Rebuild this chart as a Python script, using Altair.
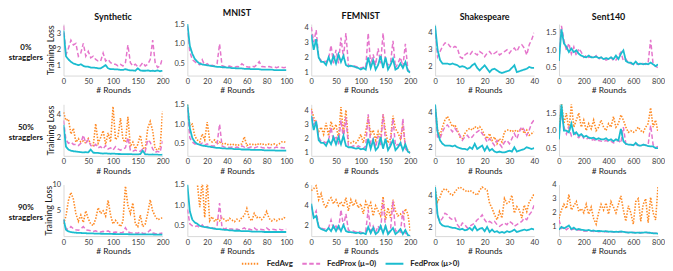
import altair as alt
import pandas as pd

# ---------------- labels ----------------
DATASETS = ["Synthetic", "MNIST", "FEMNIST", "Shakespeare", "Sent140"]
ROW_LABELS = [["0%", "stragglers"], ["50%", "stragglers"], ["90%", "stragglers"]]
SERIES = ["FedAvg", "FedProx (μ=0)", "FedProx (μ>0)"]
COLORS = ["#ff8a24", "#e576cc", "#1bbccf"]
DASHES = [[1.5, 1.5], [4.5, 2.5], [1, 0]]
WIDTHS = [1.6, 1.5, 1.8]

# ---------------- rounds (x sample positions) ----------------
ROUNDS_SYN = list(range(0, 201, 5))
ROUNDS_MNIST = [v / 10 for v in range(0, 1001, 25)]
ROUNDS_FEMNIST = list(range(0, 201, 5))
ROUNDS_SHAK = list(range(0, 41))
ROUNDS_SENT = list(range(0, 801, 20))
ROUNDS = [ROUNDS_SYN, ROUNDS_MNIST, ROUNDS_FEMNIST, ROUNDS_SHAK, ROUNDS_SENT]

X_MAX = [200, 100, 200, 40, 800]
X_TICKS = [[0, 50, 100, 150, 200], [0, 20, 40, 60, 80, 100], [0, 50, 100, 150, 200],
           [0, 10, 20, 30, 40], [0, 200, 400, 600, 800]]

Y_DOM = [
    [[0.4, 3.6], [0.2, 1.5], [0.8, 4.2], [1.5, 4.5], [0.28, 1.75]],
    [[0.4, 4.9], [0.2, 1.5], [0.8, 4.4], [1.5, 4.5], [0.28, 1.75]],
    [[0.2, 10], [0.25, 1.5], [1.0, 6.1], [1.5, 4.65], [0.35, 4.0]],
]
Y_TICKS = [
    [[1, 2, 3], [0.5, 1.0, 1.5], [1, 2, 3, 4], [2, 3, 4], [0.5, 1.0, 1.5]],
    [[2, 4], [0.5, 1.0, 1.5], [1, 2, 3, 4], [2, 3, 4], [0.5, 1.0, 1.5]],
    [[5, 10], [0.5, 1.0, 1.5], [2, 4, 6], [2, 3, 4], [1, 2, 3, 4]],
]
Y_FMT = [
    ["d", ".1f", "d", "d", ".1f"],
    ["d", ".1f", "d", "d", ".1f"],
    ["d", ".1f", "d", "d", "d"],
]
Y_TITLE_X = [-13, -13, -15.5]

# ---------------- 0% stragglers ----------------
SYN0_PROX0 = [3.5, 1.7, 2.1, 2.6, 2.3, 2.4, 1.6, 1.8, 2.4, 1.6, 1.9, 1.5, 1.6, 1.4, 1.3, 1.3, 1.8, 1.3, 1.4, 1.2,
              1.1, 1.1, 1.0, 1.1, 1.0, 1.2, 2.3, 1.2, 1.0, 1.1, 0.95, 1.0, 1.2, 1.0, 1.1, 1.4, 2.6, 1.2, 0.9, 1.0, 1.5]
SYN0_PROXP = [3.2, 1.6, 1.4, 1.25, 1.15, 1.1, 1.05, 1.1, 1.0, 0.95, 0.95, 0.9, 0.9, 0.88, 0.85, 0.85, 0.95, 1.05, 0.85, 0.8,
              0.8, 0.78, 0.78, 0.75, 0.75, 0.8, 0.75, 0.72, 0.72, 0.7, 0.85, 0.72, 0.7, 0.7, 0.72, 0.68, 0.7, 0.68, 0.72, 0.67, 0.7]
MNIST0_PROX0 = [1.45, 0.8, 0.6, 0.55, 0.5, 0.47, 0.6, 0.46, 0.5, 0.45, 0.46, 0.44, 0.5, 1.0, 0.45, 0.43, 0.42, 0.44, 0.42, 0.41,
                0.43, 0.42, 0.5, 0.45, 0.42, 0.41, 0.44, 0.42, 0.47, 0.55, 0.43, 0.42, 0.41, 0.43, 0.41, 0.42, 0.4, 0.42, 0.41, 0.4, 0.41]
MNIST0_PROXP = [1.5, 0.95, 0.75, 0.62, 0.55, 0.5, 0.48, 0.47, 0.46, 0.45, 0.44, 0.43, 0.42, 0.42, 0.41, 0.41, 0.4, 0.4, 0.39, 0.39,
                0.38, 0.38, 0.38, 0.37, 0.37, 0.37, 0.36, 0.36, 0.36, 0.36, 0.35, 0.35, 0.35, 0.35, 0.35, 0.34, 0.34, 0.34, 0.34, 0.34, 0.34]
FEM0_PROX0 = [4.0, 3.0, 3.8, 2.0, 1.8, 1.8, 1.7, 1.9, 2.8, 1.6, 2.5, 1.6, 3.3, 2.0, 3.6, 1.5, 1.4, 1.45, 1.4, 1.35,
              1.3, 1.35, 1.3, 3.6, 1.5, 2.2, 1.5, 2.6, 1.6, 3.6, 1.7, 1.5, 1.6, 3.1, 1.3, 1.6, 2.0, 1.4, 2.9, 1.2, 1.0]
FEM0_PROXP = [3.5, 2.5, 3.2, 2.0, 1.7, 1.7, 1.5, 2.0, 1.6, 2.1, 1.6, 2.2, 1.7, 2.1, 1.5, 1.4, 1.45, 1.4, 1.35, 1.3,
              1.2, 1.3, 1.2, 2.0, 1.3, 1.8, 1.2, 1.5, 2.1, 1.3, 2.0, 1.2, 1.5, 1.9, 1.2, 1.3, 1.6, 1.3, 1.7, 1.1, 1.0]
SHAK0_PROX0 = [4.3, 2.6, 2.9, 3.2, 3.4, 3.4, 3.2, 3.1, 3.2, 3.1, 2.6, 2.5, 2.7, 2.8, 2.7, 2.9, 2.8, 2.7, 2.9, 2.8,
               2.6, 2.8, 2.9, 2.7, 2.8, 2.9, 2.7, 2.8, 2.9, 3.0, 2.8, 3.0, 3.1, 2.9, 3.2, 3.3, 3.1, 2.7, 3.3, 3.6, 4.0]
SHAK0_PROXP = [4.4, 3.0, 2.4, 2.2, 2.2, 2.2, 2.15, 2.2, 2.15, 2.1, 2.0, 2.05, 2.0, 1.9, 1.95, 2.1, 2.2, 1.95, 1.8, 1.95,
               2.1, 1.9, 1.7, 1.85, 1.9, 1.8, 1.7, 1.65, 1.7, 1.75, 1.8, 1.95, 2.1, 1.7, 1.75, 1.8, 1.85, 1.9, 2.0, 1.95, 1.95]
SENT0_PROX0 = [0.7, 1.7, 1.3, 1.0, 1.2, 0.9, 1.1, 0.85, 1.05, 0.95, 0.8, 0.85, 0.8, 0.82, 0.78, 0.85, 0.75, 0.8, 0.78, 0.72,
               0.75, 0.8, 0.7, 0.72, 0.85, 0.95, 0.7, 0.75, 0.65, 0.62, 0.6, 0.62, 0.6, 0.65, 0.62, 0.6, 0.65, 1.3, 0.6, 0.55, 0.5]
SENT0_PROXP = [0.7, 1.6, 1.2, 1.1, 0.95, 1.05, 0.95, 1.0, 0.9, 0.85, 0.82, 0.8, 0.85, 0.8, 0.8, 0.82, 0.78, 0.8, 0.75, 0.78,
               0.75, 0.8, 0.75, 0.85, 0.75, 0.9, 1.0, 0.7, 0.65, 0.65, 0.6, 0.68, 0.6, 0.62, 0.6, 0.62, 0.6, 0.65, 0.6, 0.55, 0.6]

# ---------------- 50% stragglers ----------------
SYN50_AVG = [4.2, 3.5, 3.6, 2.3, 2.8, 1.6, 1.9, 1.6, 1.7, 1.5, 1.9, 1.4, 1.3, 3.2, 1.5, 2.0, 2.6, 1.4, 2.4, 1.6,
             4.7, 1.8, 2.1, 3.7, 1.8, 1.6, 3.8, 1.2, 1.6, 1.0, 1.4, 2.2, 1.1, 1.0, 2.8, 3.4, 2.6, 1.0, 0.9, 1.1, 4.3]
SYN50_PROX0 = [3.5, 1.8, 1.5, 1.6, 1.4, 1.4, 1.3, 1.5, 2.2, 1.5, 1.8, 1.3, 1.2, 1.4, 1.1, 1.2, 1.0, 1.3, 1.0, 1.1,
               0.9, 1.2, 1.0, 0.9, 1.0, 1.1, 2.0, 0.9, 0.8, 0.9, 0.8, 0.8, 1.0, 0.8, 1.8, 1.6, 1.0, 0.7, 0.8, 0.7, 1.7]
SYN50_PROXP = [3.1, 1.2, 0.95, 0.85, 0.8, 0.78, 0.75, 0.72, 0.7, 0.72, 0.7, 0.95, 0.68, 0.65, 0.65, 0.62, 0.6, 0.62, 0.6, 0.58,
               0.6, 0.58, 0.56, 0.56, 0.55, 0.55, 0.54, 0.55, 0.53, 0.53, 0.52, 0.55, 0.85, 0.53, 0.52, 0.5, 0.52, 0.5, 0.5, 0.48, 0.5]
MNIST50_AVG = [1.5, 0.95, 1.0, 0.7, 0.6, 0.55, 0.75, 0.6, 1.05, 0.6, 0.55, 0.6, 0.5, 0.55, 0.5, 0.52, 0.48, 0.5, 0.47, 0.5,
               0.46, 0.48, 0.5, 0.68, 0.46, 0.5, 0.48, 0.5, 0.47, 0.52, 0.48, 0.5, 0.47, 0.5, 0.48, 0.5, 0.47, 0.5, 0.55, 0.56, 0.52]
MNIST50_PROX0 = [1.4, 0.65, 0.55, 0.5, 0.5, 0.48, 0.52, 0.47, 0.5, 0.46, 0.45, 0.45, 0.5, 1.0, 0.45, 0.42, 0.42, 0.41, 0.42, 0.4,
                 0.42, 0.4, 0.45, 0.42, 0.4, 0.41, 0.43, 0.4, 0.42, 0.44, 0.41, 0.4, 0.42, 0.4, 0.41, 0.4, 0.42, 0.4, 0.41, 0.4, 0.41]
MNIST50_PROXP = [1.5, 0.9, 0.65, 0.55, 0.5, 0.48, 0.46, 0.45, 0.44, 0.43, 0.42, 0.41, 0.4, 0.4, 0.39, 0.39, 0.38, 0.38, 0.38, 0.37,
                 0.37, 0.37, 0.36, 0.36, 0.36, 0.36, 0.35, 0.35, 0.35, 0.35, 0.35, 0.34, 0.34, 0.34, 0.34, 0.34, 0.33, 0.33, 0.33, 0.33, 0.33]
FEM50_AVG = [4.1, 3.5, 3.0, 2.5, 2.8, 2.3, 3.1, 2.2, 3.2, 2.6, 3.0, 2.0, 4.2, 2.4, 4.0, 1.8, 1.7, 1.8, 1.7, 1.9,
             2.3, 1.7, 2.5, 3.5, 2.3, 2.6, 1.9, 2.5, 2.0, 3.7, 2.5, 1.7, 2.0, 3.6, 2.7, 2.4, 2.0, 3.0, 1.4, 1.2, 1.0]
FEM50_PROX0 = [4.0, 3.0, 3.2, 2.1, 1.8, 1.8, 1.7, 1.9, 2.8, 1.8, 2.2, 1.6, 3.3, 2.0, 3.5, 1.5, 1.4, 1.5, 1.4, 1.5,
               1.4, 1.3, 1.5, 3.7, 1.6, 2.0, 1.4, 2.2, 1.5, 3.7, 1.8, 1.3, 1.7, 3.4, 1.5, 1.6, 1.4, 3.4, 1.3, 1.1, 1.0]
FEM50_PROXP = [3.6, 2.6, 3.2, 1.9, 1.7, 1.7, 1.5, 1.9, 1.6, 2.1, 1.6, 2.1, 1.6, 2.2, 1.5, 1.4, 1.4, 1.35, 1.3, 1.35,
               1.25, 1.3, 1.2, 2.0, 1.3, 1.9, 1.2, 1.4, 2.1, 1.3, 2.0, 1.2, 1.5, 1.9, 1.2, 1.4, 1.7, 1.2, 1.6, 1.1, 1.0]
SHAK50_AVG = [4.4, 3.0, 2.7, 3.2, 3.6, 3.8, 3.5, 3.2, 3.3, 3.0, 2.6, 2.5, 2.8, 3.0, 3.1, 3.0, 3.2, 3.1, 3.2, 3.0,
              2.7, 2.5, 2.8, 2.4, 2.6, 2.2, 2.5, 2.3, 2.9, 3.0, 3.0, 2.9, 3.0, 2.9, 3.0, 3.1, 2.8, 3.0, 2.7, 2.8, 2.9]
SHAK50_PROX0 = [4.4, 2.6, 2.5, 2.9, 3.2, 3.3, 3.1, 2.9, 3.1, 2.9, 2.7, 2.4, 2.6, 2.7, 2.5, 2.6, 2.8, 2.9, 3.0, 2.8,
                2.6, 2.3, 2.5, 2.3, 2.1, 2.4, 2.2, 2.0, 2.3, 2.4, 2.2, 2.5, 2.8, 2.5, 2.9, 3.2, 3.0, 2.7, 3.0, 3.4, 3.6]
SHAK50_PROXP = [4.5, 2.9, 2.4, 2.2, 2.1, 2.1, 2.1, 2.05, 2.1, 2.0, 1.95, 1.9, 1.9, 1.85, 2.0, 1.9, 2.2, 1.9, 2.0, 2.1,
                1.8, 2.05, 1.8, 1.9, 1.75, 1.7, 1.75, 1.7, 1.7, 1.75, 1.8, 1.75, 2.0, 1.75, 1.8, 1.85, 1.9, 2.0, 1.95, 1.9, 1.95]
SENT50_AVG = [0.9, 1.8, 1.2, 1.5, 1.0, 1.75, 1.1, 1.3, 1.5, 1.1, 1.3, 1.0, 1.2, 1.05, 1.3, 1.0, 1.1, 1.3, 1.1, 1.0,
              1.2, 1.1, 1.4, 1.1, 1.2, 1.45, 1.3, 1.1, 0.95, 1.0, 0.95, 1.0, 1.1, 1.0, 0.95, 1.1, 1.2, 1.65, 1.1, 1.3, 0.95]
SENT50_PROX0 = [0.9, 1.5, 1.1, 0.9, 1.1, 0.85, 0.95, 0.85, 0.8, 0.9, 0.78, 0.75, 0.8, 0.72, 0.75, 0.7, 0.72, 0.7, 0.68, 0.72,
                0.68, 0.7, 0.65, 0.68, 0.72, 0.65, 1.1, 0.62, 0.6, 0.6, 0.58, 0.6, 0.58, 0.57, 0.6, 0.58, 0.6, 1.15, 0.6, 0.52, 0.55]
SENT50_PROXP = [0.75, 1.75, 1.0, 1.0, 0.95, 1.2, 0.9, 0.95, 0.85, 0.9, 0.82, 0.85, 0.8, 0.78, 0.8, 0.75, 0.78, 0.75, 0.75, 0.78,
                0.72, 0.75, 0.7, 0.75, 0.72, 1.05, 0.7, 0.62, 0.6, 0.6, 0.58, 0.65, 0.58, 0.57, 0.6, 0.58, 0.56, 0.55, 0.55, 0.5, 0.5]

# ---------------- 90% stragglers ----------------
SYN90_AVG = [2.5, 4.0, 7.0, 8.5, 7.2, 4.5, 3.0, 4.2, 2.8, 5.0, 3.5, 2.5, 2.2, 3.5, 5.6, 4.5, 5.0, 4.0, 7.0, 4.2,
             2.5, 3.2, 2.6, 2.0, 3.0, 9.7, 6.0, 4.5, 6.5, 2.5, 2.0, 4.2, 2.0, 2.5, 4.5, 7.1, 5.0, 4.0, 3.3, 3.5, 3.7]
SYN90_PROX0 = [3.3, 1.6, 1.5, 2.0, 1.6, 1.4, 1.3, 1.6, 2.0, 1.4, 1.3, 1.2, 1.1, 1.2, 1.0, 1.0, 1.1, 1.0, 1.2, 0.9,
               0.9, 1.0, 0.9, 0.85, 0.9, 1.8, 1.0, 0.85, 0.8, 0.8, 0.75, 1.0, 0.75, 0.7, 0.9, 1.4, 0.8, 0.7, 0.65, 0.7, 0.8]
SYN90_PROXP = [3.4, 1.4, 1.1, 0.95, 0.9, 0.85, 0.8, 0.8, 0.75, 0.75, 0.72, 0.7, 0.7, 0.68, 0.66, 0.65, 0.65, 0.63, 0.62, 0.62,
               0.6, 0.6, 0.58, 0.58, 0.57, 0.56, 0.56, 0.55, 0.55, 0.54, 0.54, 0.53, 0.53, 0.52, 0.52, 0.51, 0.51, 0.5, 0.5, 0.5, 0.5]
MNIST90_AVG = [2.3, 2.0, 1.9, 1.7, 1.55, 0.95, 1.6, 0.7, 1.6, 0.62, 0.72, 0.6, 0.68, 0.62, 0.7, 0.65, 0.6, 0.68, 0.64, 0.6,
               0.66, 0.62, 0.7, 0.75, 0.92, 0.68, 0.62, 0.8, 0.7, 0.72, 0.65, 0.72, 0.85, 0.68, 0.62, 0.66, 0.62, 0.66, 0.65, 0.7, 0.68]
MNIST90_PROX0 = [0.9, 0.55, 0.5, 0.48, 0.5, 0.45, 0.52, 0.45, 0.48, 0.44, 0.45, 0.43, 0.5, 1.05, 0.45, 0.42, 0.45, 0.42, 0.42, 0.4,
                 0.42, 0.4, 0.42, 0.45, 0.4, 0.42, 0.4, 0.45, 0.4, 0.42, 0.41, 0.4, 0.45, 0.4, 0.42, 0.41, 0.4, 0.42, 0.4, 0.41, 0.42]
MNIST90_PROXP = [1.5, 0.85, 0.65, 0.58, 0.55, 0.5, 0.48, 0.47, 0.46, 0.45, 0.44, 0.43, 0.42, 0.42, 0.41, 0.4, 0.4, 0.39, 0.39, 0.38,
                 0.38, 0.38, 0.37, 0.37, 0.37, 0.37, 0.36, 0.36, 0.36, 0.36, 0.36, 0.35, 0.35, 0.35, 0.35, 0.35, 0.35, 0.35, 0.35, 0.35, 0.35]
FEM90_AVG = [5.5, 5.7, 6.0, 4.6, 5.2, 4.2, 3.8, 4.5, 4.8, 4.2, 4.6, 4.0, 4.4, 3.9, 4.8, 3.5, 4.6, 4.0, 4.5, 3.8,
             4.2, 3.2, 4.4, 3.8, 4.3, 3.0, 4.0, 3.5, 3.0, 4.9, 2.6, 3.8, 2.8, 4.6, 3.5, 3.0, 3.2, 2.8, 3.7, 3.2, 1.5]
FEM90_PROX0 = [4.0, 3.0, 3.5, 2.0, 1.8, 1.7, 1.7, 1.8, 2.6, 1.7, 2.0, 1.6, 3.6, 2.0, 3.2, 1.6, 1.5, 1.5, 1.4, 1.5,
               1.4, 1.3, 1.5, 3.6, 1.5, 2.0, 1.4, 2.0, 1.5, 4.6, 1.8, 1.3, 1.6, 4.5, 1.5, 1.5, 1.4, 3.5, 1.3, 1.1, 1.0]
FEM90_PROXP = [4.2, 2.8, 3.0, 1.9, 1.7, 1.6, 1.5, 1.8, 1.5, 2.0, 1.5, 2.0, 1.5, 2.1, 1.5, 1.4, 1.4, 1.35, 1.3, 1.35,
               1.25, 1.3, 1.2, 1.9, 1.3, 1.8, 1.2, 1.4, 2.0, 1.3, 2.0, 1.2, 1.5, 1.8, 1.2, 1.4, 1.7, 1.2, 1.6, 1.1, 1.0]
SHAK90_AVG = [4.4, 3.6, 3.9, 4.3, 4.4, 4.3, 4.1, 4.0, 4.2, 4.4, 4.5, 4.4, 4.3, 4.2, 4.3, 4.2, 4.1, 4.0, 4.3, 4.5,
              4.4, 4.3, 3.5, 3.2, 2.8, 2.5, 3.0, 2.6, 3.8, 3.5, 3.6, 4.0, 2.9, 3.3, 3.1, 2.6, 3.4, 3.0, 3.6, 3.8, 4.1]
SHAK90_PROX0 = [4.4, 2.7, 2.4, 2.6, 2.9, 2.8, 2.6, 2.5, 2.6, 2.2, 2.0, 2.3, 2.2, 2.0, 2.1, 2.2, 2.3, 2.5, 2.6, 2.8,
                2.5, 2.3, 2.4, 2.3, 2.4, 2.2, 2.1, 2.2, 2.3, 2.2, 2.4, 2.3, 2.1, 2.2, 2.3, 2.4, 2.6, 2.5, 2.8, 3.0, 3.4]
SHAK90_PROXP = [4.5, 2.8, 2.3, 2.15, 2.1, 2.1, 2.05, 2.0, 2.0, 1.95, 1.9, 1.95, 1.85, 1.9, 2.0, 1.85, 2.1, 1.85, 1.95, 2.0,
                1.8, 2.05, 1.75, 1.9, 1.75, 1.8, 1.7, 1.75, 1.7, 1.8, 1.75, 1.8, 1.9, 1.75, 1.8, 1.85, 1.9, 1.85, 1.9, 1.95, 1.9]
SENT90_AVG = [1.6, 2.2, 2.6, 2.3, 3.3, 2.2, 2.5, 2.8, 2.1, 2.3, 2.0, 2.6, 1.9, 2.4, 1.6, 1.2, 2.0, 2.6, 2.2, 2.7,
              1.9, 2.8, 2.4, 2.0, 2.6, 3.2, 2.2, 1.4, 2.5, 2.0, 1.2, 2.8, 3.0, 1.4, 2.6, 3.0, 1.3, 3.1, 2.0, 1.5, 3.9]
SENT90_PROX0 = [1.5, 0.9, 1.0, 0.8, 0.95, 0.8, 0.85, 0.75, 0.8, 0.75, 0.7, 0.72, 0.7, 0.72, 0.68, 0.7, 0.66, 0.68, 0.65, 0.67,
                0.65, 0.66, 0.64, 0.65, 0.63, 0.66, 0.63, 0.62, 0.6, 0.61, 0.6, 0.6, 0.58, 0.6, 0.58, 0.6, 0.58, 0.57, 0.56, 0.55, 0.55]
SENT90_PROXP = [0.8, 1.0, 0.9, 1.0, 1.1, 0.85, 0.95, 0.8, 0.85, 0.8, 0.78, 0.75, 0.78, 0.72, 0.75, 0.7, 0.72, 0.7, 0.68, 0.7,
                0.66, 0.68, 0.65, 0.66, 0.65, 0.68, 0.65, 0.62, 0.6, 0.62, 0.6, 0.58, 0.6, 0.58, 0.6, 0.62, 0.6, 0.58, 0.55, 0.55, 0.52]

DATA = [
    [[None, SYN0_PROX0, SYN0_PROXP], [None, MNIST0_PROX0, MNIST0_PROXP], [None, FEM0_PROX0, FEM0_PROXP],
     [None, SHAK0_PROX0, SHAK0_PROXP], [None, SENT0_PROX0, SENT0_PROXP]],
    [[SYN50_AVG, SYN50_PROX0, SYN50_PROXP], [MNIST50_AVG, MNIST50_PROX0, MNIST50_PROXP],
     [FEM50_AVG, FEM50_PROX0, FEM50_PROXP], [SHAK50_AVG, SHAK50_PROX0, SHAK50_PROXP],
     [SENT50_AVG, SENT50_PROX0, SENT50_PROXP]],
    [[SYN90_AVG, SYN90_PROX0, SYN90_PROXP], [MNIST90_AVG, MNIST90_PROX0, MNIST90_PROXP],
     [FEM90_AVG, FEM90_PROX0, FEM90_PROXP], [SHAK90_AVG, SHAK90_PROX0, SHAK90_PROXP],
     [SENT90_AVG, SENT90_PROX0, SENT90_PROXP]],
]

# ---------------- layout ----------------
W = 100
H = 52
FONT = "Lato"

color_scale = alt.Scale(domain=SERIES, range=COLORS)
dash_scale = alt.Scale(domain=SERIES, range=DASHES)
legend = alt.Legend(title=None, orient="none", legendX=179, legendY=232, direction="horizontal",
                    columns=3, symbolType="stroke", symbolSize=324, symbolStrokeWidth=2,
                    labelFont=FONT, labelFontSize=8, labelFontWeight="bold", labelColor="#222222",
                    columnPadding=5, labelOffset=6)


def panel(r, c):
    ds = DATASETS[c]
    xaxis = alt.Axis(values=X_TICKS[c], title="# Rounds", format="d", labelFlush=False)
    if c == 0:
        yaxis = alt.Axis(values=Y_TICKS[r][c], format=Y_FMT[r][c], title="Training Loss",
                         titleX=Y_TITLE_X[r], titleY=H / 2, titleBaseline="middle", titleFontSize=9)
    else:
        yaxis = alt.Axis(values=Y_TICKS[r][c], format=Y_FMT[r][c], title=None)
    layers = []
    for k, s in enumerate(SERIES):
        vals = DATA[r][c][k]
        if vals is None:
            continue
        df = pd.DataFrame({"round": ROUNDS[c], "loss": vals, "series": s})
        layers.append(
            alt.Chart(df).mark_line(clip=True, strokeWidth=WIDTHS[k]).encode(
                x=alt.X("round:Q", scale=alt.Scale(domain=[0, X_MAX[c]], nice=False), axis=xaxis),
                y=alt.Y("loss:Q", scale=alt.Scale(domain=Y_DOM[r][c], nice=False, zero=False), axis=yaxis),
                color=alt.Color("series:N", scale=color_scale, legend=legend),
                strokeDash=alt.StrokeDash("series:N", scale=dash_scale, legend=legend),
            )
        )
    if c == 0:
        layers.append(
            alt.Chart(pd.DataFrame({"k": [0]})).mark_text(
                text=ROW_LABELS[r], font=FONT, fontSize=8, fontWeight="bold", color="#111111",
                align="center", baseline="middle", lineHeight=10
            ).encode(x=alt.value(-38), y=alt.value(H / 2 - 2))
        )
    ch = alt.layer(*layers).properties(width=W, height=H)
    if r == 0:
        ch = ch.properties(title=alt.TitleParams(ds, font=FONT, fontSize=9, fontWeight="bold",
                                                 color="#111111", offset=2, anchor="middle"))
    return ch


panels = [panel(r, c) for r in range(3) for c in range(5)]

chart = alt.concat(*panels, columns=5, spacing={"row": 29, "column": 25}, bounds="flush").properties(padding=0)
chart = chart.configure_view(strokeWidth=0).configure_axis(
    labelFont=FONT, labelFontSize=7.5, labelColor="#3a3a3a",
    titleFont=FONT, titleFontSize=8.5, titleFontWeight="normal", titleColor="#1a1a1a",
    domainColor="#d9d9d9", domainWidth=1, ticks=False, grid=False, labelPadding=2,
).configure_axisX(titlePadding=1).configure_axisY(labelPadding=3)

chart.save("out.html", embed_options={"renderer": "svg", "actions": False})
